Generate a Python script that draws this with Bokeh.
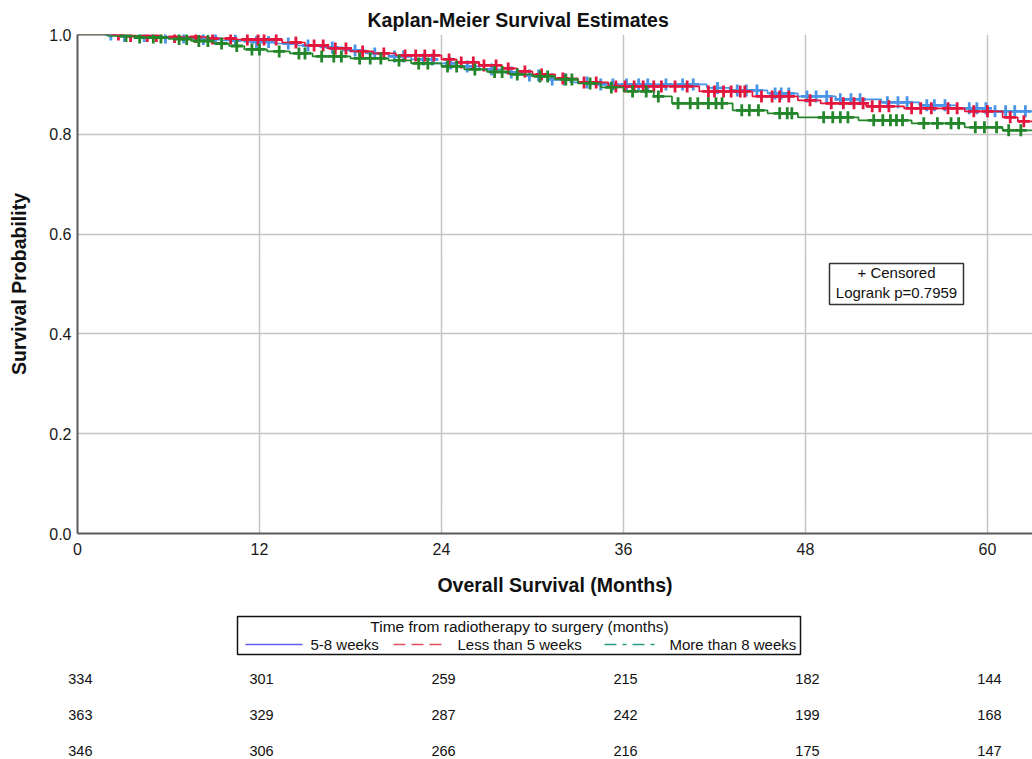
import numpy as np
from bokeh.plotting import figure
from bokeh.layouts import column
from bokeh.models import Range1d, FixedTicker, PrintfTickFormatter, LinearAxis
from bokeh.core.properties import value
from bokeh.embed import file_html
from bokeh.resources import INLINE

# ---------------- data ----------------
groups = ["5-8 weeks", "Less than 5 weeks", "More than 8 weeks"]
followup_end = 66.0

blue_t = [0, 2.6, 5.0, 7.5, 9.5, 11.0, 13.0, 14.5, 16.0, 17.5, 19.0, 20.5, 22.0, 23.5, 25.0,
          26.5, 28.0, 29.5, 31.0, 32.5, 34.0, 41.5, 43.0, 45.5, 47.5, 50.0, 53.0, 55.5, 58.0, 60.0]
blue_s = [1.0, 0.997, 0.994, 0.991, 0.988, 0.985, 0.982, 0.978, 0.974, 0.968, 0.962, 0.956, 0.950,
          0.942, 0.936, 0.930, 0.924, 0.918, 0.910, 0.904, 0.900, 0.893, 0.888, 0.882, 0.876, 0.870,
          0.864, 0.858, 0.852, 0.846]
blue_c = [2.2, 3.1, 4.4, 5.8, 7.0, 8.3, 9.1, 10.4, 11.8, 12.6, 13.9, 15.2, 16.8, 18.3, 19.6, 20.9,
          21.5, 22.8, 23.4, 24.6, 25.7, 27.3, 28.6, 29.8, 30.4, 31.3, 32.1, 33.6, 34.5, 35.3, 36.2,
          37.0, 37.6, 38.8, 39.9, 40.6, 42.2, 43.5, 44.1, 44.8, 46.0, 46.4, 46.9, 48.1, 48.7, 49.4,
          50.3, 51.0, 51.6, 53.4, 54.1, 54.7, 56.0, 56.5, 57.2, 58.8, 59.3, 59.9, 60.5, 61.2, 61.8, 62.5]

red_t = [0, 3.0, 5.5, 8.5, 10.5, 13.5, 15.0, 16.5, 18.0, 19.5, 21.0, 24.0, 25.0, 26.5, 28.0, 29.0,
         30.0, 31.5, 33.0, 35.0, 41.0, 44.5, 47.5, 49.0, 52.0, 54.5, 58.5, 61.0, 62.0]
red_s = [1.0, 0.997, 0.995, 0.992, 0.990, 0.984, 0.978, 0.972, 0.966, 0.962, 0.958, 0.950, 0.944,
         0.938, 0.932, 0.926, 0.920, 0.912, 0.904, 0.896, 0.886, 0.876, 0.868, 0.862, 0.856, 0.852,
         0.846, 0.834, 0.826]
red_c = [2.7, 3.5, 4.6, 5.2, 6.4, 7.8, 8.9, 10.1, 11.2, 11.9, 12.3, 13.1, 14.4, 15.6, 16.2, 17.0,
         17.7, 18.8, 20.2, 21.6, 22.3, 22.9, 23.5, 24.5, 25.3, 26.1, 26.8, 27.6, 28.4, 29.5, 30.6,
         32.0, 33.4, 34.2, 35.5, 36.1, 36.7, 37.3, 38.0, 38.5, 39.4, 40.2, 41.6, 42.0, 42.6, 43.1,
         43.7, 44.0, 45.1, 45.8, 46.3, 46.9, 48.3, 49.7, 50.5, 51.2, 51.8, 52.4, 52.9, 53.5, 55.0,
         55.6, 56.3, 57.4, 58.0, 59.1, 60.0, 61.5, 62.4]

green_t = [0, 2.0, 4.0, 6.0, 7.5, 9.0, 10.0, 11.0, 12.5, 14.0, 15.5, 18.0, 20.5, 22.0, 24.0, 25.5,
           27.0, 28.5, 30.0, 31.5, 33.0, 34.5, 36.0, 38.0, 39.2, 43.2, 45.5, 47.5, 51.5, 55.0, 58.5, 61.0]
green_s = [1.0, 0.997, 0.994, 0.991, 0.987, 0.982, 0.977, 0.970, 0.966, 0.962, 0.956, 0.952, 0.948,
           0.942, 0.936, 0.930, 0.925, 0.920, 0.916, 0.910, 0.902, 0.894, 0.886, 0.876, 0.862, 0.848,
           0.842, 0.834, 0.828, 0.822, 0.814, 0.808]
green_c = [3.2, 4.1, 5.0, 5.5, 6.7, 7.2, 8.0, 8.6, 9.5, 10.5, 11.5, 12.0, 13.3, 14.6, 15.0, 16.1,
           16.9, 17.4, 18.6, 19.3, 20.0, 21.2, 22.5, 23.1, 24.4, 25.0, 26.2, 27.5, 28.0, 29.0, 30.5,
           31.0, 32.2, 32.6, 33.8, 35.2, 36.6, 37.5, 38.3, 39.6, 40.4, 40.9, 41.6, 42.1, 42.5, 43.8,
           44.3, 44.9, 46.3, 46.8, 47.1, 49.2, 49.8, 50.3, 50.8, 52.5, 53.1, 53.6, 54.0, 54.4, 55.8,
           56.7, 57.6, 58.1, 59.2, 59.8, 60.6, 61.4, 62.2]

risk_times = [0, 12, 24, 36, 48, 60]
risk_blue = [334, 301, 259, 215, 182, 144]
risk_red = [363, 329, 287, 242, 199, 168]
risk_green = [346, 306, 266, 216, 175, 147]

x_ticks = [0, 12, 24, 36, 48, 60]
y_ticks = [0.0, 0.2, 0.4, 0.6, 0.8, 1.0]
logrank_text = "Logrank p=0.7959"

# ---------------- styles ----------------
FONT = "Liberation Sans"
line_colors = ["#4a94e6", "#e3173e", "#23862a"]
legend_colors = ["#5f5ff0", "#e0505e", "#2a9c84"]
legend_dash = ["solid", "12 6", "12 6 4 6"]

W = 1032
FRAME_L, FRAME_R = 77, 0
X_END = 62.97
frame_w = W - FRAME_L - FRAME_R
px_per_m = frame_w / X_END


def px2m(px):  # page x pixel -> months (layout helper)
    return (px - FRAME_L) / px_per_m


H1 = 606
p = figure(width=W, height=H1, x_range=Range1d(0, X_END), y_range=Range1d(0, 1.0),
           output_backend="svg", toolbar_location=None,
           min_border_left=FRAME_L, min_border_right=FRAME_R, min_border_top=34,
           min_border_bottom=73, title="Kaplan-Meier Survival Estimates")
p.title.text_font = FONT
p.title.text_font_size = "19.5px"
p.title.text_font_style = "bold"
p.title.text_color = "#111111"
p.title.align = "left"
p.title.offset = 290
p.title.standoff = 7
p.outline_line_color = None
p.background_fill_color = "white"

p.xaxis.ticker = FixedTicker(ticks=x_ticks)
p.yaxis.ticker = FixedTicker(ticks=y_ticks)
p.yaxis.formatter = PrintfTickFormatter(format="%.1f")
for ax in (p.xaxis[0], p.yaxis[0]):
    ax.major_tick_out = 0
    ax.major_tick_in = 0
    ax.minor_tick_out = 0
    ax.minor_tick_in = 0
    ax.axis_line_color = "#5a5a5a"
    ax.axis_line_width = 2
    ax.major_label_text_font = FONT
    ax.major_label_text_font_size = "16px"
    ax.major_label_text_color = "#1a1a1a"
    ax.axis_label_text_font = FONT
    ax.axis_label_text_font_size = "19.5px"
    ax.axis_label_text_font_style = "bold"
    ax.axis_label_text_color = "#111111"
p.xaxis.axis_label = "Overall Survival (Months)"
p.yaxis.axis_label = "Survival Probability"
p.xaxis.major_label_standoff = 9
p.yaxis.major_label_standoff = 6
p.xaxis.axis_label_standoff = 16
p.yaxis.axis_label_standoff = 16
p.grid.grid_line_color = "#c4c4c4"
p.grid.grid_line_width = 1.5

series = [(blue_t, blue_s, blue_c), (red_t, red_s, red_c), (green_t, green_s, green_c)]
for (t, s, c), col in zip(series, line_colors):
    t_arr = np.array(t + [followup_end])
    s_arr = np.array(s + [s[-1]])
    p.step(t_arr, s_arr, mode="after", line_color=col, line_width=1.7)
    c_arr = np.array(c)
    idx = np.searchsorted(np.array(t), c_arr, side="right") - 1
    cy = np.array(s)[idx]
    p.scatter(c_arr, cy, marker="cross", size=12, line_color=col, line_width=2.8)

# censored / logrank box
bx_l, bx_r = px2m(829), px2m(963)
p.quad(left=[bx_l], right=[bx_r], top=[0.541], bottom=[0.459], fill_color="white",
       line_color="#333333", line_width=1.5)
p.text(x=[(bx_l + bx_r) / 2] * 2, y=[0.523, 0.483], text=["+ Censored", logrank_text],
       text_align="center", text_baseline="middle", text_font=value(FONT),
       text_font_size="15px", text_color="#111111")

# ---------------- lower panel: legend + numbers at risk ----------------
H2 = 153
q = figure(width=W, height=H2, x_range=p.x_range, y_range=Range1d(H2, 0),
           output_backend="svg", toolbar_location=None, x_axis_type=None, y_axis_type=None,
           min_border_left=FRAME_L, min_border_right=FRAME_R, min_border_top=0, min_border_bottom=0)
q.grid.visible = False
q.outline_line_color = None

q.quad(left=[px2m(237)], right=[px2m(800)], top=[10], bottom=[48], fill_color="white",
       line_color="#111111", line_width=1.5)
q.text(x=[px2m(519)], y=[20], text=["Time from radiotherapy to surgery (months)"],
       text_align="center", text_baseline="middle", text_font=value(FONT),
       text_font_size="15.5px", text_color="#111111")
seg_px = [(245, 302), (393, 447), (604, 656)]
lab_px = [310, 457, 669]
for (a, b), lx, g, col, dash in zip(seg_px, lab_px, groups, legend_colors, legend_dash):
    q.segment(x0=[px2m(a)], x1=[px2m(b)], y0=[38], y1=[38], line_color=col, line_width=1.5,
              line_dash=dash)
    q.text(x=[px2m(lx)], y=[38], text=[g], text_align="left", text_baseline="middle",
           text_font=value(FONT), text_font_size="15px", text_color="#111111")

# numbers at risk
row_y = [72, 108, 144]
risk_rows = [risk_blue, risk_red, risk_green]
RISK_FONT_SIZE = "14.5px"
# time 0 column sits across the frame edge -> rendered by an (invisible-line) axis on the left
first_col = {ry: str(vals[0]) for ry, vals in zip(row_y, risk_rows)}
risk_axis = LinearAxis(ticker=FixedTicker(ticks=row_y), major_label_overrides=first_col,
                       axis_line_color=None, major_tick_line_color=None,
                       minor_tick_line_color=None, major_tick_out=0, major_tick_in=0,
                       major_label_standoff=-15, major_label_text_font=FONT,
                       major_label_text_font_size=RISK_FONT_SIZE,
                       major_label_text_color="#111111")
q.add_layout(risk_axis, "left")
for ry, vals in zip(row_y, risk_rows):
    q.text(x=risk_times[1:], y=[ry] * (len(vals) - 1), text=[str(v) for v in vals[1:]],
           text_align="center", text_baseline="middle", text_font=value(FONT),
           text_font_size=RISK_FONT_SIZE, text_color="#111111", x_offset=2)

layout = column(p, q, spacing=0)
open("out.html", "w").write(file_html(layout, INLINE))
